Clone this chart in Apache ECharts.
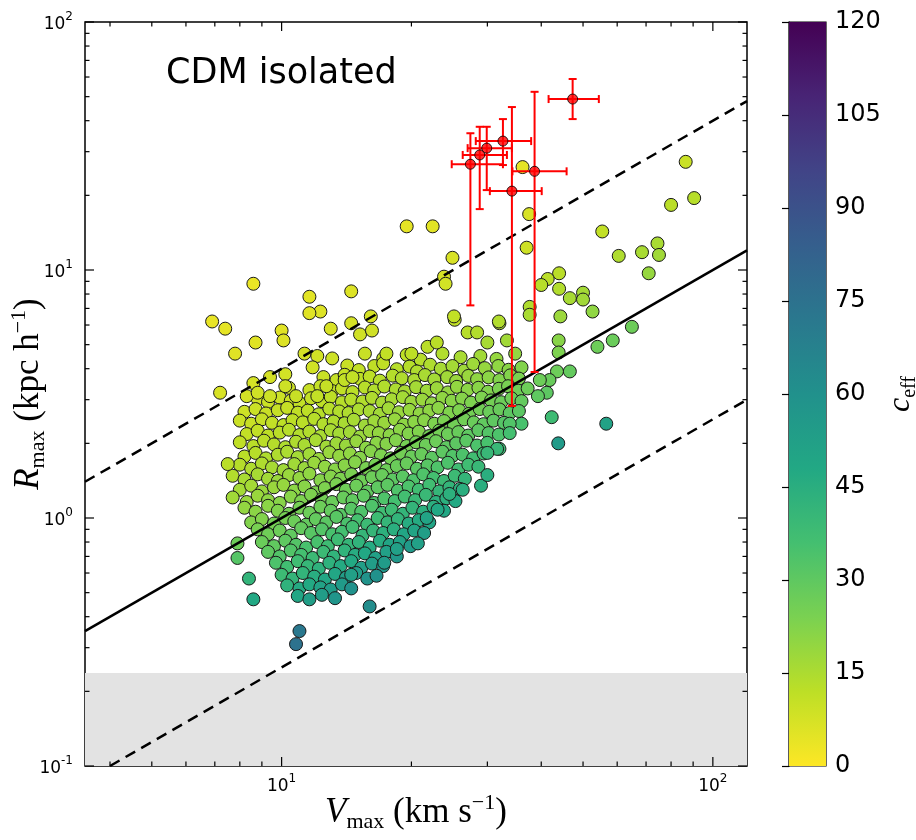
<!DOCTYPE html>
<html><head><meta charset="utf-8">
<script src="https://cdn.jsdelivr.net/npm/echarts@6/dist/echarts.min.js"></script>
<style>html,body{margin:0;padding:0;background:#fff}#c{width:916px;height:840px}</style>
</head><body><div id="c"></div>
<script>
// ---- data ----
const xLimits = [3.5, 120];
const yLimits = [0.1, 100];
const xMajorTicks = [10, 100];
const xMinorTicks = [4, 5, 6, 7, 8, 9, 20, 30, 40, 50, 60, 70, 80, 90];
const yMajorTicks = [0.1, 1, 10, 100];
const yMinorTicks = [0.2,0.3,0.4,0.5,0.6,0.7,0.8,0.9,2,3,4,5,6,7,8,9,20,30,40,50,60,70,80,90];
const cbarTicks = [0, 15, 30, 45, 60, 75, 90, 105, 120];
const greyBand = [0.1, 0.237];
const solidLine = [[3.5, 0.35], [120, 12.0]];
const upperDashed = [[3.5, 1.4], [120, 48]];
const lowerDashed = [[4, 0.1], [120, 3.0]];

// dense core, one list per Rmax band: V values, R values, c_eff values
const coreV = [
[15.6,17.2,19.5,21.0,23.6,26.0,28.9,31.5,34.8],
[14.2,15.1,16.4,17.2,18.5,19.8,20.6,22.1,23.4,24.9,26.5,27.8,29.6,31.8,33.6,36.0],
[12.5,13.4,14.0,15.2,16.0,16.9,18.1,19.0,20.3,21.5,22.6,24.2,25.4,27.1,28.4,30.2,32.0,33.9,35.5],
[10.4,11.6,12.3,13.1,13.8,14.6,15.6,16.4,17.3,18.4,19.3,20.5,21.7,22.9,24.3,25.5,27.0,28.6,30.1,31.9,33.5,35.4,37.2],
[8.8,9.3,9.9,10.5,11.0,11.7,12.4,13.0,13.8,14.5,15.4,16.2,17.1,18.0,19.1,20.0,21.2,22.3,23.6,24.8,26.2,27.5,29.1,30.6,32.3,34.1,36.0],
[8.2,8.7,9.2,9.8,10.3,10.9,11.5,12.2,12.9,13.6,14.3,15.1,16.0,16.9,17.7,18.7,19.8,20.9,22.0,23.1,24.5,25.8,27.2,28.8,30.3,32.0,33.8,35.5],
[8.0,8.5,9.0,9.5,10.1,10.6,11.2,11.9,12.5,13.2,14.0,14.7,15.6,16.4,17.3,18.3,19.2,20.3,21.4,22.6,23.8,25.1,26.5,27.9,29.4,31.0,32.8],
[8.3,8.8,9.3,9.9,10.4,11.0,11.6,12.3,13.0,13.6,14.4,15.2,16.0,16.8,17.8,18.8,19.7,20.8,22.0,23.2,24.3,25.7,27.1,28.6,30.2,31.9],
[8.0,8.6,9.1,9.6,10.2,10.8,11.3,12.0,12.7,13.4,14.1,14.9,15.7,16.6,17.5,18.4,19.5,20.5,21.6,22.8,24.1,25.4,26.8,28.4,30.0],
[8.2,8.7,9.2,9.8,10.3,10.9,11.6,12.2,12.9,13.6,14.4,15.2,16.1,17.0,17.9,18.9,20.0,21.1,22.3,23.6,24.9,26.3,27.8,29.4],
[8.0,8.5,9.0,9.5,10.1,10.7,11.3,11.9,12.6,13.3,14.0,14.8,15.7,16.5,17.5,18.5,19.5,20.6,21.8,23.0,24.3,25.7,27.1,28.6],
[7.7,8.2,8.8,9.3,9.8,10.4,11.0,11.6,12.3,13.0,13.7,14.5,15.3,16.2,17.1,18.1,19.1,20.2,21.3,22.5,23.8,25.2,26.6],
[8.0,8.5,9.0,9.6,10.1,10.7,11.3,12.0,12.6,13.4,14.1,14.9,15.8,16.7,17.6,18.6,19.7,20.8,22.0,23.2,24.5,25.9],
[7.7,8.3,8.8,9.3,9.9,10.5,11.1,11.7,12.4,13.1,13.9,14.6,15.5,16.4,17.3,18.3,19.3,20.4,21.6,22.8,24.1,25.3],
[8.2,8.7,9.3,9.8,10.4,11.0,11.6,12.3,13.0,13.7,14.5,15.3,16.2,17.1,18.0,19.1,20.1,21.3,22.5,23.8],
[8.5,9.0,9.6,10.2,10.7,11.4,12.0,12.7,13.4,14.2,15.0,15.8,16.7,17.6,18.6,19.7,20.8,22.0],
[8.8,9.3,9.9,10.5,11.1,11.7,12.4,13.1,13.8,14.6,15.4,16.3,17.2,18.2,19.2,20.3,21.4],
[9.0,9.6,10.2,10.8,11.4,12.1,12.8,13.5,14.3,15.1,16.0,16.9,17.8,18.8,19.9],
[9.3,9.9,10.5,11.1,11.8,12.5,13.2,14.0,14.8,15.6,16.5,17.5,18.5],
[9.7,10.3,10.9,11.5,12.2,12.9,13.7,14.5,15.3,16.2,17.2],
[10.0,10.6,11.2,11.9,12.6,13.3,14.1,14.9,15.8,16.6],
[10.3,11.0,11.6,12.3,13.0,13.8,14.5],
[10.9,11.6,12.4,13.3]
];
const coreR = [
[4.6,4.4,4.55,4.35,4.6,4.45,4.5,4.38,4.6],
[4.12,3.95,4.1,4.2,3.98,4.08,3.9,4.15,4.0,4.1,3.93,4.18,4.02,4.1,3.96,4.05],
[3.7,3.6,3.78,3.64,3.72,3.58,3.75,3.66,3.6,3.77,3.62,3.7,3.57,3.74,3.63,3.69,3.6,3.76,3.65],
[3.35,3.28,3.4,3.25,3.33,3.22,3.36,3.27,3.39,3.3,3.24,3.37,3.26,3.34,3.21,3.38,3.29,3.35,3.23,3.32,3.4,3.26,3.33],
[3.02,2.94,3.06,2.97,2.91,3.04,2.96,3.08,2.93,3.0,2.95,3.05,2.92,3.01,3.07,2.94,3.0,2.9,3.05,2.97,3.03,2.92,3.06,2.98,2.93,3.04,2.96],
[2.68,2.75,2.64,2.72,2.78,2.66,2.71,2.62,2.76,2.69,2.65,2.74,2.7,2.63,2.77,2.67,2.73,2.64,2.71,2.78,2.66,2.72,2.63,2.75,2.68,2.74,2.65,2.7],
[2.47,2.4,2.5,2.42,2.37,2.48,2.43,2.51,2.39,2.45,2.41,2.49,2.36,2.46,2.42,2.5,2.38,2.44,2.48,2.4,2.46,2.37,2.5,2.43,2.39,2.47,2.42],
[2.18,2.25,2.15,2.21,2.27,2.16,2.23,2.14,2.26,2.19,2.22,2.13,2.24,2.2,2.16,2.27,2.19,2.23,2.14,2.25,2.18,2.22,2.15,2.26,2.2,2.17],
[2.02,1.95,2.05,1.98,1.93,2.03,1.97,2.06,1.94,2.0,1.96,2.04,1.92,2.01,1.99,2.06,1.95,2.02,1.97,2.04,1.93,2.0,2.05,1.96,2.01],
[1.77,1.83,1.74,1.8,1.85,1.76,1.81,1.73,1.84,1.78,1.82,1.75,1.86,1.79,1.74,1.83,1.77,1.81,1.75,1.85,1.78,1.8,1.74,1.82],
[1.64,1.58,1.66,1.6,1.56,1.65,1.59,1.67,1.61,1.57,1.63,1.68,1.59,1.64,1.56,1.62,1.66,1.58,1.63,1.6,1.67,1.57,1.64,1.61],
[1.48,1.43,1.5,1.44,1.41,1.49,1.45,1.51,1.42,1.47,1.44,1.5,1.41,1.46,1.49,1.43,1.47,1.42,1.5,1.45,1.41,1.48,1.44],
[1.3,1.35,1.28,1.33,1.36,1.29,1.34,1.27,1.32,1.37,1.3,1.35,1.28,1.33,1.36,1.29,1.34,1.3,1.36,1.28,1.33,1.31],
[1.21,1.16,1.23,1.18,1.15,1.22,1.17,1.24,1.19,1.16,1.21,1.18,1.23,1.15,1.2,1.17,1.22,1.18,1.24,1.16,1.2,1.17],
[1.1,1.06,1.12,1.07,1.04,1.1,1.05,1.11,1.07,1.03,1.09,1.06,1.12,1.05,1.08,1.04,1.1,1.06,1.11,1.07],
[0.96,0.99,0.95,1.0,0.97,0.94,0.99,0.96,1.01,0.95,0.98,0.94,1.0,0.96,0.99,0.95,0.98,0.96],
[0.9,0.86,0.89,0.85,0.91,0.87,0.9,0.86,0.88,0.92,0.85,0.89,0.87,0.9,0.86,0.89,0.87],
[0.8,0.77,0.81,0.78,0.76,0.8,0.77,0.82,0.78,0.8,0.76,0.81,0.78,0.8,0.77],
[0.73,0.7,0.74,0.71,0.69,0.73,0.7,0.74,0.71,0.72,0.69,0.73,0.7],
[0.66,0.635,0.67,0.64,0.625,0.66,0.64,0.67,0.63,0.655,0.64],
[0.59,0.57,0.6,0.58,0.565,0.595,0.575,0.6,0.57,0.585],
[0.535,0.52,0.54,0.525,0.515,0.54,0.52],
[0.485,0.47,0.49,0.475]
];
const coreC = [
[10,11,12,13.5,14,15.5,17,19,19.5],
[10,11,11.5,11.5,13,13.5,14.5,14.5,16,16.5,17.5,17.5,19,20,21.5,22.5],
[10,10.5,10.5,12,12,13,13.5,14.5,15,15.5,16.5,17,18.5,18.5,20,21,22.5,22.5,24],
[9,10,10.5,11.5,11.5,12.5,13,14,14,15,16,16.5,17.5,18,19.5,19.5,21,21.5,23,24,24.5,26.5,27],
[9,9.5,9.5,10,11,11,12,12,13,13.5,14,14.5,16,16,16.5,18,18.5,20,20,21.5,22,23.5,23.5,25.5,27,27,29],
[9,9.5,10,10.5,10.5,11.5,12,13,13,14,14.5,15,16,17,17,18.5,19,20,20.5,21,23,23.5,25.5,26,27.5,28,30.5,31],
[9.5,10,10.5,11,12,12,12.5,13,14,14.5,15.5,16,17.5,17.5,18.5,19,20.5,21,21.5,23.5,24,26,26,27.5,29.5,30,32],
[11,11,12,12.5,13,14,14,15.5,15.5,16.5,17,18.5,18.5,19.5,21,21,22.5,23,25.5,25.5,27,28,30,30.5,32.5,34],
[11.5,12.5,12.5,13.5,14.5,14.5,15.5,15.5,17,17.5,18.5,19,21,21,22,22.5,25,25,27,27,30,30.5,31,34,35],
[12.5,13,14.5,14.5,15,16.5,17,18.5,18.5,19.5,20,22,22,23.5,25.5,25.5,27.5,28,30.5,30.5,33,34,37,37],
[13.5,14.5,14.5,16,17,17,18.5,18.5,20,21.5,21.5,22,24.5,25,27,27.5,28,31,31.5,33.5,34,37.5,37.5,40],
[14,15.5,16,17,18.5,18.5,19.5,20,22,22,23.5,24,26.5,27,28,30.5,31,33.5,33.5,36,38.5,38.5,41.5],
[16.5,16.5,18.5,18.5,19,21,21.5,23.5,23.5,24,26.5,27,29.5,30,30.5,33.5,34,37,37,41,41.5,44],
[17,18.5,18.5,20,21.5,21.5,23.5,23.5,25.5,27.5,28,29.5,30,33.5,33.5,36,36.5,39.5,39.5,44,44.5,47.5],
[19.5,21,21,23,25,25,27,27,29,31.5,31.5,33.5,33.5,37.5,38,41.5,41.5,44.5,45,48.5],
[22.5,22.5,25,25,27,29,29,31,31.5,34.5,35.5,38.5,38,41,42,46,46.5,50],
[24.5,26.5,27,29.5,29,31.5,32.5,35,36,36.5,41,41,44,45,49,50,53],
[27.5,29.5,30,32.5,35,35,38,38,41,42.5,46.5,46,50,51,55.5],
[30,33,33,36,39,39,42.5,42.5,46,48,52,52,56.5],
[34,37,37.5,40.5,43.5,43.5,47,47.5,53,53.5,57.5],
[38.5,41.5,42,45.5,49,49,53,53.5,59,60],
[43,47,47.5,51,54.5,55,59.5],
[49,53,54,58]
];
// [Vmax, Rmax, c_eff] sparse halos
const outerHalos = [
[6.9,6.2,4],[7.4,5.8,4.5],[7.8,4.6,5.5],[7.2,3.2,7],[7.5,1.65,12.5],[8.6,8.8,3.5],[8.7,5.1,5.5],[10.0,5.7,5.5],[10.1,5.2,6],
[11.6,7.8,5],[12.3,6.8,6],[11.6,6.7,5.5],[13.0,5.8,7],[14.5,6.1,7.5],[14.5,8.2,6],[16.1,6.5,7.5],[11.3,4.6,7.5],[12.1,4.5,8],
[13.1,4.4,9],[11.8,4.05,8.5],[9.4,3.7,7.5],[10.2,3.8,8],[10.2,3.4,9],[8.6,3.5,7.5],[8.3,3.1,8],[8.8,3.2,8.5],[9.4,3.1,9],
[10.8,3.1,10],[12.1,3.1,11],[12.7,3.4,10.5],[14.0,3.6,11],[14.6,3.7,11],[15.2,5.5,8.5],[16.2,5.7,8.5],[17.5,4.6,11],[20.0,4.6,12],
[21.8,4.9,12.5],[22.9,5.1,12.5],[25.2,6.3,11.5],[27.0,5.6,13],[28.4,5.6,14],[30.0,5.1,16],[32.0,6.1,14.5],[33.3,5.2,17],
[24.9,11.2,7],[23.8,9.4,7.5],[24.0,8.8,8],[19.5,15.0,4.5],[22.4,15.0,5],[25.1,6.5,11],[31.9,6.2,14],
[36.2,26,4.5],[37.5,16.8,7],[37,12.3,9],[44,9.7,12.5],[41.4,9.2,12.5],[40,8.7,13],[44,8.4,14],[46.6,7.7,16],[50,8.1,16.5],
[50,7.6,17],[52.6,6.8,20],[44.3,6.5,18],[37.6,7.1,14.5],[37.6,6.6,15.5],[64.9,5.9,27],[58.6,5.2,27.5],[54,4.9,27],
[43.9,5.2,21.5],[43.9,4.65,23.5],[46.6,3.9,29],[43.5,3.9,27],[41.8,3.6,28],[41.2,3.2,30.5],[39.3,3.1,30],[39.7,3.6,27],
[42.3,2.55,38],[56.6,2.4,51],[43.8,2.0,55],[36,2.4,35],[33.8,2.4,33],[33.8,2.2,36],[32,1.9,38.5],
[86.5,27.3,9.5],[90.5,19.5,13],[80,18.3,12.5],[55.4,14.3,11],[60.5,11.4,14.5],[68.5,11.8,15.5],[74.4,12.8,15.5],[75,11.5,17],[71,9.7,19],
[16.0,0.44,62],[11.0,0.35,72],[10.8,0.31,75],[8.6,0.47,48],[8.4,0.57,42],[7.9,0.69,32],[7.9,0.79,27],[14.5,0.59,52],
[17.3,0.66,55],[20.7,0.79,52],[18.5,0.75,52],[21.7,1.0,50],[23.0,1.08,48],[24.5,1.25,44],[26.3,1.3,45],[29,1.35,45],
[30,1.49,45],[31.6,1.9,40],[30,1.83,40]
];
// observed satellites with error bars
const satV   = [47.3, 32.6, 29.9, 28.8, 27.4, 38.6, 34.2];
const satR   = [48.9, 33.1, 31.0, 29.1, 26.7, 25.0, 20.8];
const satVlo = [41.6, 28.2, 27.0, 26.3, 24.8, 34.3, 30.4];
const satVhi = [54.4, 37.9, 34.2, 33.3, 32.6, 45.8, 40.1];
const satRlo = [40.6, 26.5, 21.0, 17.6, 7.2, 3.88, 2.83];
const satRhi = [58.9, 40.6, 37.8, 37.8, 35.6, 52.3, 45.4];

// ---- style ----
const viridisR = ['#fde725','#bddf26','#7ad151','#44bf70','#22a884','#21918c','#2a788e','#355f8d','#414487','#482475','#440154'];
const SANS = 'DejaVu Sans';
const SERIF = 'Liberation Serif';

const haloData = [];
coreV.forEach((row, i) => row.forEach((v, j) => haloData.push([v, coreR[i][j], coreC[i][j]])));
outerHalos.forEach(h => haloData.push(h));

const chart = echarts.init(document.getElementById('c'), null, {renderer: 'canvas'});

function powLabel(v) {
  const l = Math.log10(v), e = Math.round(l);
  if (Math.abs(l - e) > 1e-6) return '';
  return '{b|10}{s|' + e + '}';
}
const powRich = {
  b: {fontSize: 17, fontFamily: SANS, color: '#000', lineHeight: 22, verticalAlign: 'bottom'},
  s: {fontSize: 12, fontFamily: SANS, color: '#000', lineHeight: 22, verticalAlign: 'top'}
};
function mathName(size) {
  return {fontFamily: SERIF, fontSize: size, color: '#000', lineHeight: size + 6,
    rich: {i: {fontFamily: SERIF, fontStyle: 'italic', fontSize: size, lineHeight: size + 6},
           sub: {fontFamily: SERIF, fontSize: Math.round(size * 0.64), lineHeight: size + 6, verticalAlign: 'bottom'},
           sup: {fontFamily: SERIF, fontSize: Math.round(size * 0.64), lineHeight: size + 6, verticalAlign: 'top'}}};
}

function tickSeries(vals, isX, len) {
  return {
    type: 'custom', xAxisIndex: 0, yAxisIndex: 0, silent: true, z: 6, animation: false,
    data: vals.map(v => isX ? [v, 1] : [10, v]),
    renderItem: function (params, api) {
      const cs = params.coordSys;
      const p = api.coord([api.value(0), api.value(1)]);
      const st = {stroke: '#000', lineWidth: 1.2};
      if (isX) {
        return {type: 'group', children: [
          {type: 'line', shape: {x1: p[0], y1: cs.y + cs.height, x2: p[0], y2: cs.y + cs.height - len}, style: st},
          {type: 'line', shape: {x1: p[0], y1: cs.y, x2: p[0], y2: cs.y + len}, style: st}
        ]};
      }
      return {type: 'group', children: [
        {type: 'line', shape: {x1: cs.x, y1: p[1], x2: cs.x + len, y2: p[1]}, style: st},
        {type: 'line', shape: {x1: cs.x + cs.width, y1: p[1], x2: cs.x + cs.width - len, y2: p[1]}, style: st}
      ]};
    }
  };
}

const option = {
  animation: false,
  backgroundColor: '#fff',
  grid: [
    {left: 85, top: 22, width: 662, height: 744, show: true, borderColor: '#000', borderWidth: 1.5,
     backgroundColor: 'transparent', containLabel: false, outerBoundsMode: 'none'},
    {left: 789, top: 22, width: 37, height: 744, show: true, borderColor: '#000', borderWidth: 1.2,
     backgroundColor: 'transparent', containLabel: false, outerBoundsMode: 'none'}
  ],
  xAxis: [
    {type: 'log', logBase: 10, min: xLimits[0], max: xLimits[1], gridIndex: 0,
     axisLine: {show: false}, axisTick: {show: false}, splitLine: {show: false},
     axisLabel: {formatter: powLabel, rich: powRich, margin: 7, showMinLabel: false, showMaxLabel: false},
     name: '{i|V}{sub|max} (km s{sup|\u22121})', nameLocation: 'middle', nameGap: 26, nameMoveOverlap: false,
     nameTextStyle: mathName(35)},
    {type: 'value', min: 0, max: 1, gridIndex: 1, show: false}
  ],
  yAxis: [
    {type: 'log', logBase: 10, min: yLimits[0], max: yLimits[1], gridIndex: 0,
     axisLine: {show: false}, axisTick: {show: false}, splitLine: {show: false},
     axisLabel: {formatter: powLabel, rich: powRich, margin: 12},
     name: '{i|R}{sub|max} (kpc h{sup|\u22121})', nameLocation: 'middle', nameGap: 36, nameRotate: 90, nameMoveOverlap: false,
     nameTextStyle: mathName(35)},
    {type: 'value', min: cbarTicks[0], max: cbarTicks[cbarTicks.length - 1], interval: 15, gridIndex: 1, position: 'right',
     axisLine: {show: true, lineStyle: {color: '#000', width: 1.2}},
     axisTick: {show: true, inside: true, length: 7, lineStyle: {color: '#000', width: 1.2}},
     splitLine: {show: false},
     axisLabel: {fontFamily: SANS, fontSize: 24, color: '#000', margin: 9},
     name: '{i|c}{sub|eff}', nameLocation: 'middle', nameGap: 56, nameRotate: 90, nameMoveOverlap: false,
     nameTextStyle: mathName(32)}
  ],
  visualMap: {show: false, type: 'continuous', min: cbarTicks[0], max: cbarTicks[cbarTicks.length - 1], dimension: 2, seriesIndex: 0,
    inRange: {color: viridisR}},
  series: [
    {type: 'scatter', xAxisIndex: 0, yAxisIndex: 0, z: 3,
     data: haloData, symbolSize: 13,
     itemStyle: {borderColor: '#1a1a1a', borderWidth: 1, opacity: 1}},
    {type: 'line', xAxisIndex: 0, yAxisIndex: 0, z: 1, data: [], silent: true,
     markArea: {silent: true, itemStyle: {color: '#e3e3e3'},
       data: [[{yAxis: greyBand[0]}, {yAxis: greyBand[1]}]]}},
    {type: 'line', xAxisIndex: 0, yAxisIndex: 0, z: 4, data: solidLine, showSymbol: false, silent: true,
     lineStyle: {color: '#000', width: 2.5}},
    {type: 'line', xAxisIndex: 0, yAxisIndex: 0, z: 4, data: upperDashed, showSymbol: false, silent: true,
     lineStyle: {color: '#000', width: 2.5, type: [11, 7]}},
    {type: 'line', xAxisIndex: 0, yAxisIndex: 0, z: 4, data: lowerDashed, showSymbol: false, silent: true,
     lineStyle: {color: '#000', width: 2.5, type: [11, 7]}},
    {type: 'custom', xAxisIndex: 0, yAxisIndex: 0, z: 7, silent: true,
     data: satV.map((v, i) => [v, satR[i], satVlo[i], satVhi[i], satRlo[i], satRhi[i]]),
     encode: {x: [0, 2, 3], y: [1, 4, 5]},
     renderItem: function (params, api) {
       const l = api.coord([api.value(2), api.value(1)]);
       const r = api.coord([api.value(3), api.value(1)]);
       const b = api.coord([api.value(0), api.value(4)]);
       const t = api.coord([api.value(0), api.value(5)]);
       const cap = 4, st = {stroke: '#ff0000', lineWidth: 2};
       return {type: 'group', children: [
         {type: 'line', shape: {x1: l[0], y1: l[1], x2: r[0], y2: r[1]}, style: st},
         {type: 'line', shape: {x1: l[0], y1: l[1] - cap, x2: l[0], y2: l[1] + cap}, style: st},
         {type: 'line', shape: {x1: r[0], y1: r[1] - cap, x2: r[0], y2: r[1] + cap}, style: st},
         {type: 'line', shape: {x1: b[0], y1: b[1], x2: t[0], y2: t[1]}, style: st},
         {type: 'line', shape: {x1: b[0] - cap, y1: b[1], x2: b[0] + cap, y2: b[1]}, style: st},
         {type: 'line', shape: {x1: t[0] - cap, y1: t[1], x2: t[0] + cap, y2: t[1]}, style: st}
       ]};
     }},
    {type: 'scatter', xAxisIndex: 0, yAxisIndex: 0, z: 8, silent: true,
     data: satV.map((v, i) => [v, satR[i]]), symbolSize: 10,
     itemStyle: {color: '#ff0000', borderColor: '#000', borderWidth: 1}},
    tickSeries(xMajorTicks, true, 9),
    tickSeries(xMinorTicks, true, 4.5),
    tickSeries(yMajorTicks, false, 9),
    tickSeries(yMinorTicks, false, 4.5),
    {type: 'custom', xAxisIndex: 1, yAxisIndex: 1, z: 1, silent: true,
     data: [[0, cbarTicks[0], 1, cbarTicks[cbarTicks.length - 1]]],
     renderItem: function (params, api) {
       const p0 = api.coord([api.value(0), api.value(1)]);
       const p1 = api.coord([api.value(2), api.value(3)]);
       const stops = viridisR.map((c, i) => ({offset: i / (viridisR.length - 1), color: c}));
       return {type: 'rect', shape: {x: p0[0], y: p1[1], width: p1[0] - p0[0], height: p0[1] - p1[1]},
         style: {fill: new echarts.graphic.LinearGradient(0, 1, 0, 0, stops)}};
     }}
  ],
  graphic: [
    {type: 'text', left: 166, top: 56, z: 10,
     style: {text: 'CDM isolated', fontFamily: SANS, fontSize: 35, fill: '#000'}}
  ]
};
chart.setOption(option);
</script>
</body></html>
